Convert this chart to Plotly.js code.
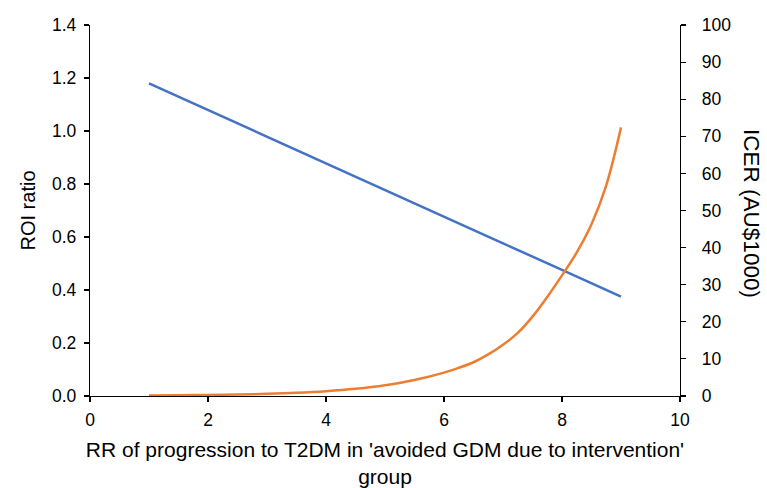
<!DOCTYPE html>
<html>
<head>
<meta charset="utf-8">
<script src="https://cdn.plot.ly/plotly-3.0.1.min.js"></script>
<style>html,body{margin:0;padding:0;background:#fff;}#chart{width:767px;height:488px;}</style>
</head>
<body>
<div id="chart"></div>
<script>
// RR values (x axis)
const rrBlue = [1, 2, 3, 4, 5, 6, 7, 8, 9];
const roiRatio = [1.18, 1.079, 0.979, 0.878, 0.778, 0.677, 0.576, 0.476, 0.375];

const rrOrange = [1, 1.5, 2, 2.5, 3, 3.5, 4, 4.5, 5, 5.5, 6, 6.25, 6.5, 6.75, 7, 7.25, 7.5, 7.75, 8, 8.25, 8.5, 8.75, 9];
const icer = [0.14, 0.2, 0.28, 0.4, 0.58, 0.86, 1.3, 1.95, 2.9, 4.3, 6.3, 7.6, 9.1, 11.2, 13.8, 17.0, 21.4, 26.7, 32.5, 38.7, 46.3, 56.8, 72.4];

const xTitle = "RR of progression to T2DM in 'avoided GDM due to intervention'<br>group";
const yTitle = "ROI ratio";
const y2Title = "ICER (AU$1000)";

const font = "Liberation Sans, Arial, Helvetica, sans-serif";

const traces = [
  {x: rrBlue, y: roiRatio, type: 'scatter', mode: 'lines', name: 'ROI ratio',
   line: {color: '#4472C4', width: 2.5}, yaxis: 'y'},
  {x: rrOrange, y: icer, type: 'scatter', mode: 'lines', name: 'ICER',
   line: {color: '#ED7D31', width: 2.5, shape: 'spline', smoothing: 1}, yaxis: 'y2'}
];

const layout = {
  width: 767, height: 488,
  margin: {l: 90, r: 87, t: 24.5, b: 92},
  paper_bgcolor: '#fff', plot_bgcolor: '#fff',
  showlegend: false,
  font: {family: font, size: 17, color: '#000'},
  xaxis: {
    range: [0, 10], dtick: 2, tick0: 0,
    showline: true, linecolor: '#000', linewidth: 1.2,
    ticks: 'outside', ticklen: 5, tickcolor: '#000', tickwidth: 1.2,
    showgrid: false, zeroline: false,
    tickfont: {size: 17.5}, ticklabelstandoff: 3,
    title: {text: xTitle, font: {size: 21}, standoff: 16}
  },
  yaxis: {
    range: [0, 1.4], dtick: 0.2, tick0: 0, tickformat: '.1f',
    showline: true, linecolor: '#000', linewidth: 1.2,
    ticks: 'outside', ticklen: 5, tickcolor: '#000', tickwidth: 1.2,
    showgrid: false, zeroline: false,
    tickfont: {size: 17.5}, ticklabelstandoff: 4,
    title: {text: yTitle, font: {size: 20}, standoff: 11}
  },
  yaxis2: {
    range: [0, 100], dtick: 10, tick0: 0,
    overlaying: 'y', side: 'right',
    showline: true, linecolor: '#000', linewidth: 1.2,
    ticks: 'outside', ticklen: 5, tickcolor: '#000', tickwidth: 1.2,
    showgrid: false, zeroline: false,
    tickfont: {size: 17.5}, ticklabelstandoff: 12
  },
  annotations: [
    {text: y2Title, xref: 'paper', yref: 'paper', x: 1, xshift: 72, y: 0.493,
     textangle: 90, showarrow: false, font: {size: 22.5, family: font},
     xanchor: 'center', yanchor: 'middle'}
  ]
};

Plotly.newPlot('chart', traces, layout, {displayModeBar: false, staticPlot: true});
</script>
</body>
</html>
